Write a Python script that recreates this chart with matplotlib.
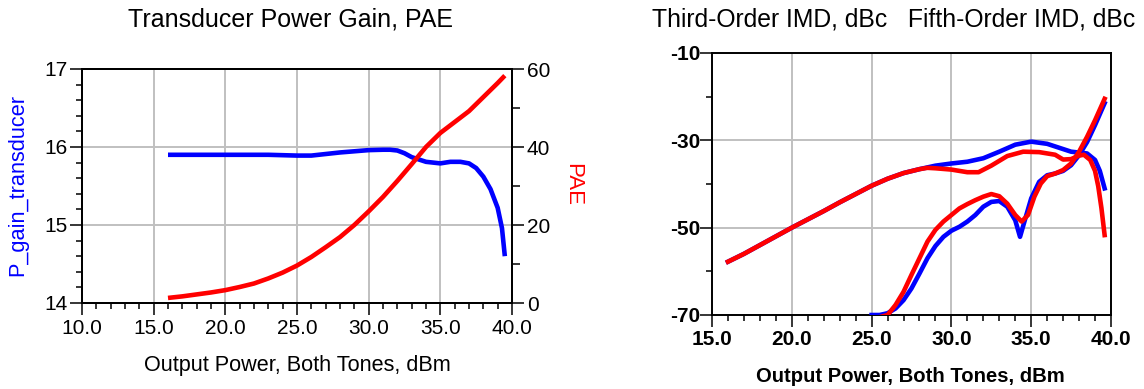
import matplotlib
matplotlib.use("Agg")
import matplotlib.pyplot as plt
from matplotlib.ticker import MultipleLocator, FixedLocator

plt.rcParams['font.family'] = ['Liberation Sans', 'DejaVu Sans']
plt.rcParams['axes.unicode_minus'] = False

# ---- Transducer gain / PAE versus output power ----
pout_gain = [16, 17, 18, 19, 20, 21, 22, 23, 24, 25, 26, 27, 28, 29, 30, 31, 31.5,
             32, 32.5, 33, 33.5, 34, 35, 35.7, 36.4, 37, 37.5, 38, 38.5, 39, 39.3, 39.5]
gain_db = [15.90, 15.90, 15.90, 15.90, 15.90, 15.90, 15.90, 15.90, 15.895, 15.89, 15.89,
           15.91, 15.93, 15.945, 15.96, 15.965, 15.965, 15.955, 15.92, 15.87, 15.84,
           15.81, 15.79, 15.81, 15.81, 15.79, 15.73, 15.62, 15.46, 15.22, 14.96, 14.60]

pout_pae = [16, 17, 18, 19, 20, 21, 22, 23, 24, 25, 26, 27, 28, 29, 30, 31, 32, 33,
            34, 35, 36, 37, 38, 39, 39.5]
pae_pct = [1.3, 1.7, 2.2, 2.7, 3.3, 4.1, 5.0, 6.3, 7.8, 9.6, 11.8, 14.3, 16.9, 20.0,
           23.5, 27.2, 31.3, 35.6, 40.0, 43.6, 46.4, 49.2, 52.8, 56.4, 58.3]

# ---- Intermodulation distortion versus output power ----
pout_imd3_b = [16, 17, 18, 19, 20, 21, 22, 23, 24, 25, 26, 27, 28, 28.5, 29, 30, 31, 32,
               33, 34, 35, 36, 37, 37.5, 38, 38.5, 39, 39.3, 39.6]
imd3_b = [-57.8, -56.0, -54.0, -52.0, -50.0, -48.1, -46.2, -44.2, -42.3, -40.4, -38.8,
          -37.5, -36.6, -36.2, -35.8, -35.3, -34.9, -34.1, -32.6, -31.0, -30.3, -30.8,
          -32.0, -32.6, -32.8, -33.0, -34.5, -37.0, -41.0]

pout_imd3_r = [16, 17, 18, 19, 20, 21, 22, 23, 24, 25, 26, 27, 28, 28.5, 29, 30, 31, 31.7,
               32.5, 33.5, 34.5, 35.5, 36.5, 37, 37.5, 38, 38.3, 38.7, 39.0, 39.2, 39.4, 39.6]
imd3_r = [-57.8, -56.0, -54.0, -52.0, -50.0, -48.1, -46.2, -44.2, -42.3, -40.4, -38.8,
          -37.5, -36.6, -36.3, -36.4, -36.7, -37.3, -37.3, -35.8, -33.6, -32.6, -32.7,
          -33.3, -34.4, -34.3, -33.5, -33.3, -34.5, -37.0, -40.5, -45.5, -51.7]

pout_imd5_b = [25, 25.5, 26, 26.5, 27, 27.5, 28, 28.5, 29, 29.5, 30, 30.5, 31, 31.5, 32,
               32.5, 33, 33.5, 34, 34.3, 34.6, 35, 35.5, 36, 36.5, 37, 37.5, 38, 38.5,
               39, 39.6]
imd5_b = [-70.0, -70.0, -69.6, -68.5, -66.6, -63.9, -60.5, -57.0, -54.2, -52.1, -50.7,
          -49.8, -48.6, -47.1, -45.2, -44.1, -43.9, -45.2, -48.3, -52.1, -48.3, -43.3,
          -39.5, -38.0, -37.6, -37.0, -35.7, -33.4, -30.4, -26.5, -21.5]

pout_imd5_r = [25.5, 26, 26.5, 27, 27.5, 28, 28.5, 29, 29.5, 30, 30.5, 31, 31.5, 32, 32.5,
               33, 33.5, 34, 34.4, 34.8, 35.2, 35.6, 36, 36.5, 37, 37.5, 38, 38.5, 39, 39.6]
imd5_r = [-70.5, -70.0, -67.7, -64.7, -60.8, -57.0, -53.2, -50.5, -48.6, -47.1, -45.6,
          -44.6, -43.7, -42.9, -42.3, -42.8, -44.5, -47.1, -48.6, -47.1, -42.9, -39.9,
          -38.2, -37.6, -36.8, -35.3, -32.6, -29.2, -25.4, -20.5]

W, H = 1144, 389
BLUE = '#0000ff'
RED = '#ff0000'
GRID = '#c0c0c0'
LW = 3.3

fig = plt.figure(figsize=(W / 100, H / 100), dpi=100)


def px_axes(x0, y0, x1, y1):
    return fig.add_axes([x0 / W, 1 - y1 / H, (x1 - x0) / W, (y1 - y0) / H])


def fig_text(x, y, s, **kw):
    return fig.text(x / W, 1 - y / H, s, **kw)


def style_axis(ax, bold=False):
    for s in ax.spines.values():
        s.set_linewidth(1.4)
        s.set_color('black')
    ax.tick_params(which='major', direction='out', length=8.6, width=1.1,
                   labelsize=15, pad=2, colors='black')
    ax.tick_params(which='minor', direction='out', length=4.3, width=1.1)
    if bold:
        for lab in ax.get_xticklabels() + ax.get_yticklabels():
            lab.set_fontweight('bold')


# Left panel: gain and PAE
ax1 = px_axes(82, 69, 512, 303)
ax1.set_xlim(10, 40)
ax1.set_ylim(14, 17)
ax1.xaxis.set_minor_locator(MultipleLocator(1))
ax1.yaxis.set_major_locator(MultipleLocator(1))
ax1.yaxis.set_minor_locator(MultipleLocator(0.2))
ax1.set_xticks([10, 15, 20, 25, 30, 35, 40])
ax1.set_xticklabels([f'{v:.1f}' for v in [10, 15, 20, 25, 30, 35, 40]])
ax1.grid(True, which='major', color=GRID, linewidth=1.4)
ax1.set_axisbelow(True)
style_axis(ax1)
ax1.tick_params(axis='x', pad=3)
ax1.plot(pout_gain, gain_db, color=BLUE, lw=LW, solid_capstyle='butt', zorder=3)

ax2 = ax1.twinx()
ax2.set_ylim(0, 60)
ax2.yaxis.set_major_locator(MultipleLocator(20))
ax2.yaxis.set_minor_locator(MultipleLocator(10))
style_axis(ax2)
ax2.tick_params(which='minor', length=6)
ax2.plot(pout_pae, pae_pct, color=RED, lw=LW, solid_capstyle='butt', zorder=3)

fig_text(17.5, 185, 'P_gain_transducer', color=BLUE, fontsize=15.7, rotation=90,
         ha='center', va='center')
fig_text(573, 185, 'PAE', color=RED, fontsize=16, rotation=-90,
         ha='center', va='center')
fig_text(290, 20, 'Transducer Power Gain, PAE', fontsize=18,
         ha='center', va='center')
fig_text(297, 365, 'Output Power, Both Tones, dBm', fontsize=15.6,
         ha='center', va='center')

# Right panel: IMD3 / IMD5
ax3 = px_axes(712, 53, 1111, 315)
ax3.set_xlim(15, 40)
ax3.set_ylim(-70, -10)
ax3.set_xticks([15, 20, 25, 30, 35, 40])
ax3.set_xticklabels([f'{v:.1f}' for v in [15, 20, 25, 30, 35, 40]])
ax3.xaxis.set_minor_locator(MultipleLocator(1))
ax3.set_yticks([-10, -30, -50, -70])
ax3.yaxis.set_minor_locator(FixedLocator([-20, -40, -60]))
ax3.grid(True, which='major', color=GRID, linewidth=1.4)
ax3.set_axisbelow(True)
style_axis(ax3, bold=True)
ax3.tick_params(axis='y', pad=0)
ax3.plot(pout_imd3_b, imd3_b, color=BLUE, lw=LW, zorder=3)
ax3.plot(pout_imd5_b, imd5_b, color=BLUE, lw=LW, zorder=3)
ax3.plot(pout_imd3_r, imd3_r, color=RED, lw=LW, zorder=4)
ax3.plot(pout_imd5_r, imd5_r, color=RED, lw=LW, zorder=4)

fig_text(910, 377, 'Output Power, Both Tones, dBm', fontsize=14.6,
         fontweight='bold', ha='center', va='center')
fig_text(652, 20, 'Third-Order IMD, dBc   Fifth-Order IMD, dBc',
         fontsize=17.8, ha='left', va='center')

fig.savefig('out.png', dpi=100)
